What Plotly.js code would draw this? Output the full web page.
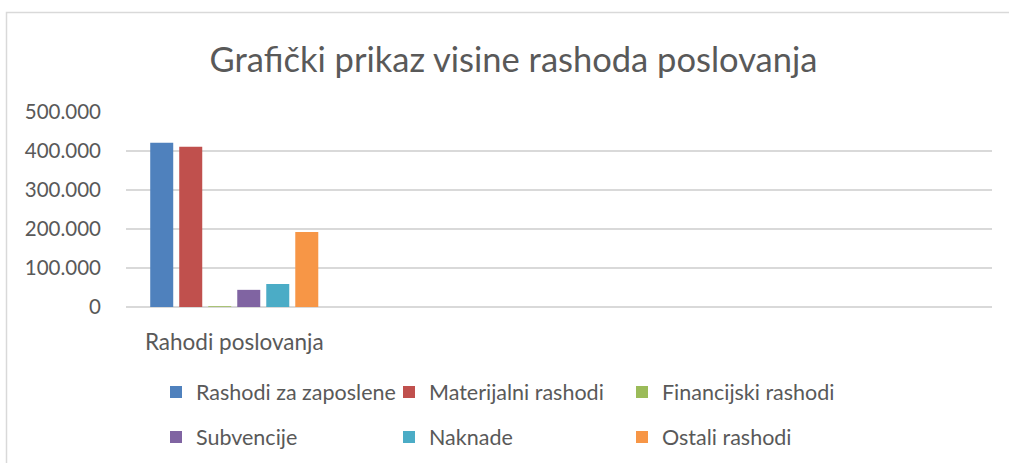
<!DOCTYPE html>
<html>
<head>
<meta charset="utf-8">
<script src="https://cdn.plot.ly/plotly-3.0.1.min.js"></script>
<style>
  html, body { margin: 0; padding: 0; background: #ffffff; }
  #chart { width: 1009px; height: 463px; }
</style>
</head>
<body>
<div id="chart"></div>
<script>
// ---- data ----
const categories = ["Rahodi poslovanja", "", "", ""];
const seriesNames = ["Rashodi za zaposlene", "Materijalni rashodi", "Financijski rashodi",
                     "Subvencije", "Naknade", "Ostali rashodi"];
const rashodiZaZaposlene = [421000, null, null, null];
const materijalniRashodi = [411000, null, null, null];
const financijskiRashodi = [2000, null, null, null];
const subvencije = [44000, null, null, null];
const naknade = [59000, null, null, null];
const ostaliRashodi = [192000, null, null, null];
const yTickValues = [0, 100000, 200000, 300000, 400000, 500000];

const seriesValues = [rashodiZaZaposlene, materijalniRashodi, financijskiRashodi,
                      subvencije, naknade, ostaliRashodi];
const colors = ["#4F81BD", "#C0504D", "#9BBB59", "#8064A2", "#4BACC6", "#F79646"];
const xIdx = categories.map((_, i) => i);

const FONT = "Lato, 'Open Sans', sans-serif";
const TXT = "#595959";

const traces = seriesValues.map((vals, i) => ({
  type: "bar",
  name: seriesNames[i],
  x: xIdx,
  y: vals,
  marker: { color: colors[i], line: { width: 0 } },
  legend: i < 3 ? "legend" : "legend2",
  hoverinfo: "none"
}));

const FW = 1009, FH = 463;
const L = 126, R = 17, T = 112, B = 156;
const W = FW - L - R, H = FH - T - B;
const px = x => (x - L) / W;
const py = y => (FH - B - y) / H;
const cx = x => x / FW;
const cy = y => 1 - y / FH;

const legendCommon = {
  orientation: "h",
  xref: "container",
  yref: "container",
  xanchor: "left",
  yanchor: "middle",
  font: { family: FONT, size: 21.5, color: TXT },
  entrywidth: 188,
  entrywidthmode: "pixels",
  bgcolor: "rgba(0,0,0,0)",
  itemclick: false,
  itemdoubleclick: false
};

const layout = {
  width: FW,
  height: FH,
  margin: { l: L, r: R, t: T, b: B, pad: 0 },
  paper_bgcolor: "#ffffff",
  plot_bgcolor: "#ffffff",
  separators: ",.",
  font: { family: FONT, color: TXT },
  title: {
    text: "Grafički prikaz visine rashoda poslovanja",
    font: { family: FONT, size: 34.5, color: TXT },
    xref: "container", x: cx(513.5), xanchor: "center",
    yref: "container", y: cy(60), yanchor: "middle"
  },
  barmode: "group",
  bargap: 0.196,
  bargroupgap: 0.207,
  xaxis: {
    range: [-0.5, categories.length - 0.5],
    tickmode: "array",
    tickvals: xIdx,
    ticktext: categories,
    showgrid: false,
    zeroline: false,
    showline: false,
    ticks: "",
    ticklabelstandoff: 19,
    tickfont: { family: FONT, size: 22.5, color: TXT },
    fixedrange: true
  },
  yaxis: {
    range: [0, 500000],
    tickmode: "array",
    tickvals: yTickValues,
    tickformat: ",d",
    showgrid: true,
    gridcolor: "#d9d9d9",
    gridwidth: 1.3,
    zeroline: true,
    zerolinecolor: "#d9d9d9",
    zerolinewidth: 2,
    showline: false,
    ticks: "",
    ticklabelstandoff: 24,
    tickfont: { family: FONT, size: 20.5, color: TXT },
    fixedrange: true
  },
  legend: Object.assign({}, legendCommon, { x: cx(156), y: cy(392) }),
  legend2: Object.assign({}, legendCommon, { x: cx(156), y: cy(437) }),
  shapes: [{
    type: "rect",
    xref: "paper", yref: "paper",
    x0: px(6.5), x1: 1.5,
    y0: -2, y1: py(12.5),
    line: { color: "#d9d9d9", width: 1.5 },
    fillcolor: "rgba(0,0,0,0)",
    layer: "below"
  }],
  showlegend: true
};

Plotly.newPlot("chart", traces, layout, { displayModeBar: false, staticPlot: true });
</script>
</body>
</html>
